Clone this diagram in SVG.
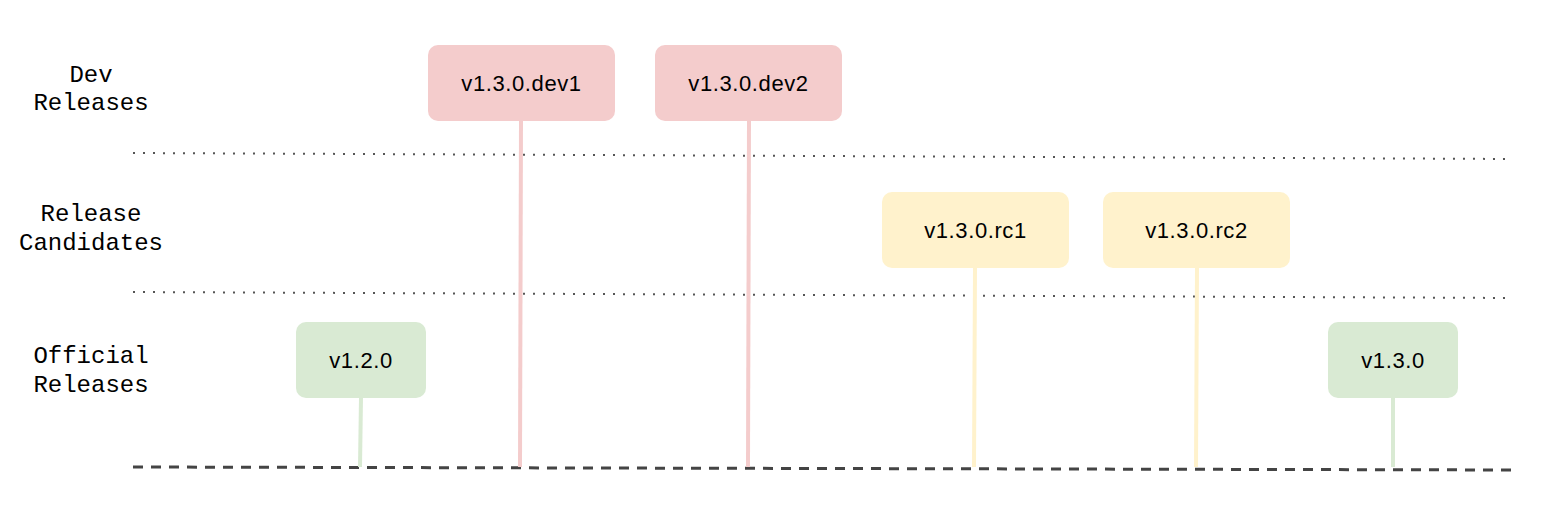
<svg xmlns="http://www.w3.org/2000/svg" width="1550" height="520" viewBox="0 0 1550 520">
  <style>
    .lane { font-family: "Liberation Mono", "DejaVu Sans Mono", monospace; font-size: 24px; fill: #000; text-anchor: middle; }
    .lbl { font-family: "Liberation Sans", Arial, sans-serif; font-size: 22px; letter-spacing: 0.6px; fill: #000; text-anchor: middle; }
    .dot { stroke: #555; stroke-width: 2; stroke-dasharray: 2 8; fill: none; }
    .dash { stroke: #444; stroke-width: 3; stroke-dasharray: 10 8; fill: none; }
    .conn { stroke-width: 4; fill: none; }
    .dev { fill: #f4cccc; }
    .rc { fill: #fff2cc; }
    .off { fill: #d9ead3; }
  </style>
  <rect width="1550" height="520" fill="#fff"/>
  <g id="lanes">
    <text class="lane" x="91" y="81.5">Dev</text>
    <text class="lane" x="91" y="110">Releases</text>
    <text class="lane" x="91" y="221">Release</text>
    <text class="lane" x="91" y="249.5">Candidates</text>
    <text class="lane" x="91" y="363">Official</text>
    <text class="lane" x="91" y="391.5">Releases</text>
  </g>
  <g id="separators">
    <line class="dot" x1="133" y1="153" x2="1512" y2="159"/>
    <line class="dot" x1="133" y1="292" x2="1512" y2="298"/>
    <line class="dash" x1="133" y1="467" x2="1516" y2="470"/>
  </g>
  <g id="connectors">
    <line class="conn" stroke="#f4cccc" x1="521" y1="120" x2="520" y2="467"/>
    <line class="conn" stroke="#f4cccc" x1="749" y1="120" x2="748" y2="467"/>
    <line class="conn" stroke="#fff2cc" x1="975" y1="267" x2="974" y2="467"/>
    <line class="conn" stroke="#fff2cc" x1="1197" y1="267" x2="1196" y2="467"/>
    <line class="conn" stroke="#d9ead3" x1="361" y1="397" x2="360" y2="467"/>
    <line class="conn" stroke="#d9ead3" x1="1393" y1="397" x2="1393" y2="467"/>
  </g>
  <g id="dev1">
    <rect class="dev" x="428" y="45" width="187" height="76" rx="10"/>
    <text class="lbl" x="521.5" y="91">v1.3.0.dev1</text>
  </g>
  <g id="dev2">
    <rect class="dev" x="655" y="45" width="187" height="76" rx="10"/>
    <text class="lbl" x="748.5" y="91">v1.3.0.dev2</text>
  </g>
  <g id="rc1">
    <rect class="rc" x="882" y="192" width="187" height="76" rx="10"/>
    <text class="lbl" x="975.5" y="238">v1.3.0.rc1</text>
  </g>
  <g id="rc2">
    <rect class="rc" x="1103" y="192" width="187" height="76" rx="10"/>
    <text class="lbl" x="1196.5" y="238">v1.3.0.rc2</text>
  </g>
  <g id="v120">
    <rect class="off" x="296" y="322" width="130" height="76" rx="10"/>
    <text class="lbl" x="361" y="368">v1.2.0</text>
  </g>
  <g id="v130">
    <rect class="off" x="1328" y="322" width="130" height="76" rx="10"/>
    <text class="lbl" x="1393" y="368">v1.3.0</text>
  </g>
</svg>
